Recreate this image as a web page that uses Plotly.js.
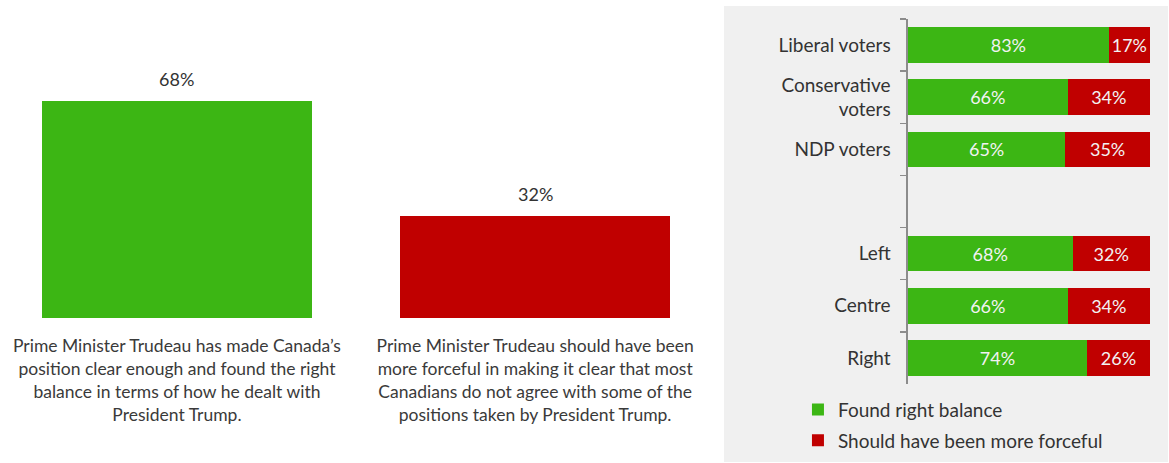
<!DOCTYPE html>
<html>
<head>
<meta charset="utf-8">
<script src="https://cdn.plot.ly/plotly-3.0.1.min.js"></script>
<style>html,body{margin:0;padding:0;background:#fff;}#chart{width:1169px;height:463px;}</style>
</head>
<body>
<div id="chart"></div>
<script>
// Left chart data
const statements = [
  "Prime Minister Trudeau has made Canada’s<br>position clear enough and found the right<br>balance in terms of how he dealt with<br>President Trump.",
  "Prime Minister Trudeau should have been<br>more forceful in making it clear that most<br>Canadians do not agree with some of the<br>positions taken by President Trump."
];
const statementValues = [68, 32];

// Right chart data
const groups = ["Liberal voters", "Conservative<br>voters", "NDP voters", " ", "Left", "Centre", "Right"];
const foundRightBalance = [83, 66, 65, null, 68, 66, 74];
const moreForceful = [17, 34, 35, null, 32, 34, 26];
const seriesNames = ["Found right balance", "Should have been more forceful"];

const GREEN = "#3cb614";
const RED = "#c00000";
const FONT = "Lato, 'Open Sans', sans-serif";
const TEXT = "#333333";
const pct = arr => arr.map(v => v == null ? "" : v + "%");

const traces = [
  {
    type: "bar",
    x: statements,
    y: statementValues,
    xaxis: "x", yaxis: "y",
    marker: {color: [GREEN, RED]},
    width: 0.754,
    showlegend: false,
    hoverinfo: "skip"
  },
  {
    type: "bar",
    orientation: "h",
    name: seriesNames[0],
    legendgroup: "a",
    y: groups,
    x: foundRightBalance,
    xaxis: "x2", yaxis: "y2",
    marker: {color: GREEN},
    width: 0.68,
    text: pct(foundRightBalance),
    textposition: "inside",
    insidetextanchor: "middle",
    textfont: {size: 18, color: "#f2f2f2", family: FONT},
    hoverinfo: "skip"
  },
  {
    type: "bar",
    orientation: "h",
    name: seriesNames[1],
    legendgroup: "b",
    y: groups,
    x: moreForceful,
    xaxis: "x2", yaxis: "y2",
    marker: {color: RED},
    width: 0.68,
    text: pct(moreForceful),
    textposition: "inside",
    insidetextanchor: "middle",
    textfont: {size: 18, color: "#f2f2f2", family: FONT},
    hoverinfo: "skip"
  }
];

const valueLabels = statements.map((s, i) => ({
  xref: "x", yref: "y",
  x: s, y: statementValues[i],
  text: statementValues[i] + "%",
  showarrow: false,
  yanchor: "bottom",
  yshift: 9,
  font: {size: 18, color: TEXT, family: FONT}
}));

const layout = {
  width: 1169, height: 463,
  margin: {l: 0, r: 0, t: 0, b: 0},
  paper_bgcolor: "#ffffff",
  plot_bgcolor: "rgba(0,0,0,0)",
  font: {family: FONT, color: TEXT},
  barmode: "stack",
  xaxis: {
    domain: [0, 0.611],
    range: [-0.494, 1.5],
    showline: false, showgrid: false, zeroline: false,
    ticks: "",
    tickfont: {size: 17.5, color: "#3a3a3a", family: FONT},
    ticklabelstandoff: 16,
    fixedrange: true
  },
  yaxis: {
    domain: [0.3132, 0.933],
    range: [0, 90],
    visible: false,
    fixedrange: true
  },
  xaxis2: {
    domain: [0.7767, 0.9837],
    range: [0, 100],
    visible: false,
    anchor: "y2",
    fixedrange: true
  },
  yaxis2: {
    domain: [0.1706, 0.959],
    anchor: "x2",
    type: "category",
    categoryorder: "array",
    categoryarray: groups,
    range: [6.5, -0.5],
    showline: true, linecolor: "#8c8c8c", linewidth: 1.5,
    ticks: "outside", tickson: "boundaries", ticklen: 6, tickcolor: "#8c8c8c", tickwidth: 1.5,
    showgrid: false, zeroline: false,
    tickfont: {size: 19, color: TEXT, family: FONT},
    ticklabelstandoff: 12,
    fixedrange: true
  },
  legend: {
    x: 0.6826, xanchor: "left",
    y: 0.156, yanchor: "top",
    orientation: "v",
    bgcolor: "rgba(0,0,0,0)",
    font: {size: 19, color: TEXT, family: FONT},
    traceorder: "grouped",
    tracegroupgap: 3,
    itemclick: false, itemdoubleclick: false
  },
  annotations: valueLabels,
  shapes: [
    {type: "rect", xref: "paper", yref: "paper", x0: 0.6193, x1: 0.9991, y0: 0.002, y1: 0.987,
     fillcolor: "#f0f0f0", line: {width: 0}, layer: "below"}
  ]
};

Plotly.newPlot("chart", traces, layout, {staticPlot: true, displayModeBar: false});
</script>
</body>
</html>
